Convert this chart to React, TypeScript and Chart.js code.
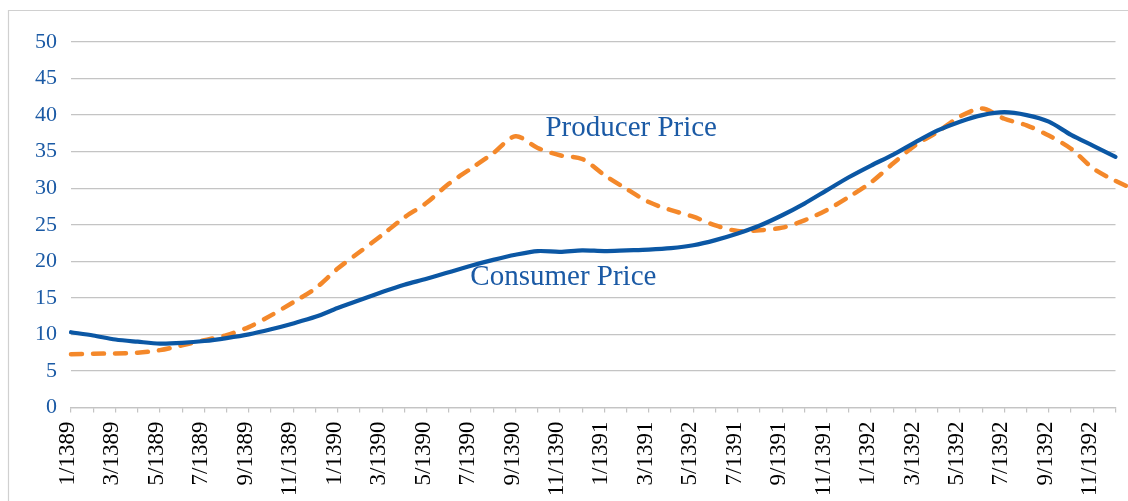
import React, { useEffect, useRef } from "react";
import { Chart, registerables } from "chart.js";

Chart.register(...registerables);

// Monthly categories (tick labels as printed on the original, including its "5/1392" label)
const xLabels: string[] = [
  "1/1389", "2/1389", "3/1389", "4/1389", "5/1389", "6/1389", "7/1389", "8/1389", "9/1389", "10/1389", "11/1389", "12/1389",
  "1/1390", "2/1390", "3/1390", "4/1390", "5/1390", "6/1390", "7/1390", "8/1390", "9/1390", "10/1390", "11/1390", "12/1390",
  "1/1391", "2/1391", "3/1391", "4/1391", "5/1392", "6/1391", "7/1391", "8/1391", "9/1391", "10/1391", "11/1391", "12/1391",
  "1/1392", "2/1392", "3/1392", "4/1392", "5/1392", "6/1392", "7/1392", "8/1392", "9/1392", "10/1392", "11/1392", "12/1392",
  "1/1393",
];

const consumerPrice: number[] = [
  10.3, 9.85, 9.3, 9.0, 8.75, 8.85, 9.1, 9.5, 10.0, 10.7, 11.5, 12.4,
  13.6, 14.7, 15.8, 16.8, 17.6, 18.5, 19.4, 20.2, 20.9, 21.4, 21.3, 21.5,
  21.4, 21.5, 21.6, 21.8, 22.2, 22.9, 23.8, 24.9, 26.3, 27.9, 29.7, 31.5,
  33.1, 34.6, 36.3, 37.9, 39.1, 40.0, 40.4, 40.0, 39.1, 37.3, 35.8, 34.3,
];

const producerPrice: number[] = [
  7.3, 7.35, 7.4, 7.5, 7.85, 8.5, 9.2, 9.9, 11.0, 12.6, 14.4, 16.3,
  19.0, 21.3, 23.6, 26.0, 28.0, 30.6, 32.7, 34.8, 37.1, 35.5, 34.5, 34.0,
  31.8, 29.9, 28.1, 27.0, 26.1, 24.9, 24.15, 24.25, 24.6, 25.6, 27.0, 28.8,
  30.8, 33.4, 35.9, 37.7, 39.8, 40.9, 39.5, 38.6, 37.2, 35.4, 32.7, 31.0,
  29.6,
];

// Series name labels placed in data coordinates: [category index, value]
const seriesNames: string[] = ["Producer Price", "Consumer Price"];
const seriesNameAnchors: [number, number][] = [
  [21.35, 37.1],
  [17.97, 16.75],
];

const yTicks = { min: 0, max: 50, step: 5 };
const LAST_SHOWN_INDEX = 47;

const BLUE = "#0b57a4";
const TEXT_BLUE = "#1b5aa5";
const ORANGE = "#f4882a";
const GRID = "#c4c4c4";
const SERIF = '"Liberation Serif", "Times New Roman", serif';

export default function App() {
  const canvasRef = useRef<HTMLCanvasElement | null>(null);

  useEffect(() => {
    const canvas = canvasRef.current;
    if (!canvas) return;

    const framePlugin = {
      id: "frame",
      beforeDraw(chart: any) {
        const ctx = chart.ctx;
        ctx.save();
        ctx.strokeStyle = "#d0d0d0";
        ctx.lineWidth = 1.2;
        ctx.beginPath();
        ctx.moveTo(8.5, chart.height + 2);
        ctx.lineTo(8.5, 10.5);
        ctx.lineTo(chart.width + 2, 10.5);
        ctx.stroke();
        ctx.restore();
      },
    };

    const namesPlugin = {
      id: "seriesNames",
      afterDraw(chart: any) {
        const ctx = chart.ctx;
        const xs = chart.scales.x;
        const ys = chart.scales.y;
        ctx.save();
        ctx.font = `29px ${SERIF}`;
        ctx.fillStyle = TEXT_BLUE;
        ctx.textAlign = "left";
        ctx.textBaseline = "alphabetic";
        seriesNames.forEach((name, i) => {
          const [ix, v] = seriesNameAnchors[i];
          ctx.fillText(name, xs.getPixelForValue(ix), ys.getPixelForValue(v));
        });
        ctx.restore();
      },
    };

    const chart = new Chart(canvas, {
      type: "line",
      data: {
        labels: xLabels,
        datasets: [
          {
            label: "Consumer Price",
            data: consumerPrice.map((v, i) => ({ x: i, y: v })),
            xAxisID: "xv",
            borderColor: BLUE,
            backgroundColor: BLUE,
            borderWidth: 4.2,
            pointRadius: 0,
            tension: 0.3,
            borderCapStyle: "round",
            borderJoinStyle: "round",
            clip: false as any,
          },
          {
            label: "Producer Price",
            data: producerPrice.map((v, i) => ({ x: i, y: v })),
            xAxisID: "xv",
            borderColor: ORANGE,
            backgroundColor: ORANGE,
            borderWidth: 4.5,
            borderDash: [11, 11],
            borderCapStyle: "round",
            borderJoinStyle: "round",
            pointRadius: 0,
            tension: 0.3,
            clip: false as any,
          },
        ],
      },
      options: {
        animation: false,
        responsive: true,
        maintainAspectRatio: false,
        layout: { padding: { left: 0, top: 42, right: 12.5, bottom: 0 } },
        plugins: {
          legend: { display: false },
          tooltip: { enabled: false },
          title: { display: false },
        },
        scales: {
          x: {
            type: "category",
            position: "bottom",
            min: 0,
            max: LAST_SHOWN_INDEX,
            offset: false,
            grid: {
              display: true,
              drawOnChartArea: false,
              drawTicks: true,
              tickLength: 5,
              color: GRID,
              lineWidth: 1.2,
            },
            border: { display: true, color: GRID, width: 1.2 },
            ticks: {
              autoSkip: false,
              maxRotation: 90,
              minRotation: 90,
              padding: 9,
              labelOffset: -3,
              color: "#000000",
              font: { family: SERIF, size: 23 },
              callback: (_v: any, index: number) => (index % 2 === 0 ? xLabels[index] : ""),
            },
            afterFit: (scale: any) => {
              scale.height = 501 - 407.5;
              scale.paddingLeft = 0;
              scale.paddingRight = 0;
            },
          },
          xv: {
            type: "linear",
            display: false,
            position: "bottom",
            min: 0,
            max: LAST_SHOWN_INDEX + 0.0001,
            offset: false,
          },
          y: {
            min: yTicks.min,
            max: yTicks.max,
            grid: {
              color: GRID,
              lineWidth: 1.2,
              drawTicks: false,
            },
            border: { display: false },
            ticks: {
              stepSize: yTicks.step,
              padding: 14,
              color: TEXT_BLUE,
              font: { family: SERIF, size: 22 },
            },
            afterFit: (scale: any) => {
              scale.width = 71;
            },
          },
        },
      },
      plugins: [framePlugin, namesPlugin],
    });

    return () => {
      chart.destroy();
    };
  }, []);

  return (
    <div style={{ position: "absolute", left: 0, top: 0, width: 1128, height: 501, background: "#ffffff" }}>
      <canvas ref={canvasRef} />
    </div>
  );
}
